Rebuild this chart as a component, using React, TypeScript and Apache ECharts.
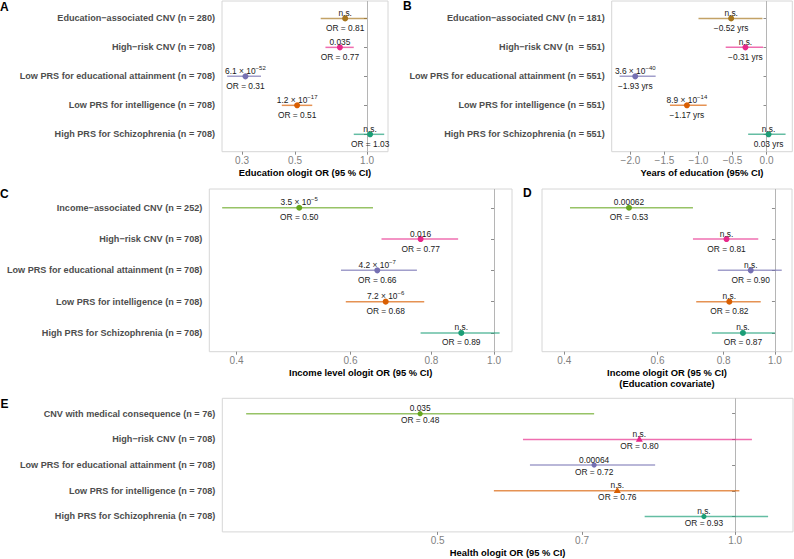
import React, { useEffect, useRef } from "react";
import * as echarts from "echarts";

const FONT = "'Liberation Sans', Arial, Helvetica, sans-serif";
const BROWN = "#A6761D";
const PINK = "#E7298A";
const PURPLE = "#7570B3";
const ORANGE = "#D95F02";
const TEAL = "#1B9E77";
const GREEN = "#66A61E";

// ---------- Panel A : Education ologit OR ----------
const rowsA = [
  "Education−associated CNV (n = 280)",
  "High−risk CNV (n = 708)",
  "Low PRS for educational attainment (n = 708)",
  "Low PRS for intelligence (n = 708)",
  "High PRS for Schizophrenia (n = 708)",
];
const estA = [0.81, 0.77, 0.31, 0.51, 1.03];
const loA = [0.64, 0.67, 0.26, 0.44, 0.88];
const hiA = [1.0, 0.88, 0.36, 0.59, 1.18];
const pA = ["n.s.", "0.035", "6.1e-52", "1.2e-17", "n.s."];
const colorsA = [BROWN, PINK, PURPLE, ORANGE, TEAL];
const ticksA = [0.3, 0.5, 1.0];

// ---------- Panel B : Years of education ----------
const rowsB = [
  "Education−associated CNV (n = 181)",
  "High−risk CNV (n  = 551)",
  "Low PRS for educational attainment (n = 551)",
  "Low PRS for intelligence (n = 551)",
  "High PRS for Schizophrenia (n = 551)",
];
const estB = [-0.52, -0.31, -1.93, -1.17, 0.03];
const loB = [-1.0, -0.6, -2.16, -1.42, -0.27];
const hiB = [-0.06, -0.05, -1.63, -0.88, 0.28];
const pB = ["n.s.", "n.s.", "3.6e-40", "8.9e-14", "n.s."];
const colorsB = [BROWN, PINK, PURPLE, ORANGE, TEAL];
const ticksB = [-2.0, -1.5, -1.0, -0.5, 0.0];

// ---------- Panel C : Income level ologit OR ----------
const rowsC = [
  "Income−associated CNV (n = 252)",
  "High−risk CNV (n = 708)",
  "Low PRS for educational attainment (n = 708)",
  "Low PRS for intelligence (n = 708)",
  "High PRS for Schizophrenia (n = 708)",
];
const estC = [0.5, 0.77, 0.66, 0.68, 0.89];
const loC = [0.38, 0.67, 0.58, 0.59, 0.77];
const hiC = [0.65, 0.88, 0.76, 0.78, 1.02];
const pC = ["3.5e-5", "0.016", "4.2e-7", "7.2e-6", "n.s."];
const colorsC = [GREEN, PINK, PURPLE, ORANGE, TEAL];
const ticksC = [0.4, 0.6, 0.8, 1.0];

// ---------- Panel D : Income ologit OR (education covariate) ----------
const rowsD = ["", "", "", "", ""];
const estD = [0.53, 0.81, 0.9, 0.82, 0.87];
const loD = [0.41, 0.7, 0.78, 0.71, 0.76];
const hiD = [0.7, 0.93, 1.03, 0.94, 1.0];
const pD = ["0.00062", "n.s.", "n.s.", "n.s.", "n.s."];
const colorsD = [GREEN, PINK, PURPLE, ORANGE, TEAL];
const ticksD = [0.4, 0.6, 0.8, 1.0];

// ---------- Panel E : Health ologit OR ----------
const rowsE = [
  "CNV with medical consequence (n = 76)",
  "High−risk CNV (n = 708)",
  "Low PRS for educational attainment (n = 708)",
  "Low PRS for intelligence (n = 708)",
  "High PRS for Schizophrenia (n = 708)",
];
const estE = [0.48, 0.8, 0.72, 0.76, 0.93];
const loE = [0.32, 0.61, 0.62, 0.57, 0.81];
const hiE = [0.72, 1.04, 0.83, 1.01, 1.08];
const pE = ["0.035", "n.s.", "0.00064", "n.s.", "n.s."];
const colorsE = [GREEN, PINK, PURPLE, ORANGE, TEAL];
const shapesE = ["circle", "triangle", "circle", "triangle", "circle"];
const ticksE = [0.5, 0.7, 1.0];

type Panel = {
  rows: string[];
  est: number[];
  lo: number[];
  hi: number[];
  p: string[];
  colors: string[];
  shapes?: string[];
  ticks: number[];
  log: boolean;
  min: number;
  max: number;
  title: string;
  unit: "or" | "yrs";
  grid: { left: number; top: number; width: number; height: number };
  topOff: number;
  botOff: number;
  r: number;
};

const panels: Panel[] = [
  {
    rows: rowsA, est: estA, lo: loA, hi: hiA, p: pA, colors: colorsA, ticks: ticksA,
    log: true, min: 0.2473, max: 1.224, title: "Education ologit OR (95 % CI)", unit: "or",
    grid: { left: 222, top: 1, width: 166, height: 150.7 }, topOff: -5, botOff: 9.3, r: 3,
  },
  {
    rows: rowsB, est: estB, lo: loB, hi: hiB, p: pB, colors: colorsB, ticks: ticksB,
    log: false, min: -2.276, max: 0.379, title: "Years of education (95% CI)", unit: "yrs",
    grid: { left: 611.7, top: 1, width: 180.6, height: 150.7 }, topOff: -5, botOff: 9.3, r: 3,
  },
  {
    rows: rowsC, est: estC, lo: loC, hi: hiC, p: pC, colors: colorsC, ticks: ticksC,
    log: true, min: 0.363, max: 1.066, title: "Income level ologit OR (95 % CI)", unit: "or",
    grid: { left: 209.3, top: 189, width: 302.7, height: 162.7 }, topOff: -5.5, botOff: 9.5, r: 3,
  },
  {
    rows: rowsD, est: estD, lo: loD, hi: hiD, p: pD, colors: colorsD, ticks: ticksD,
    log: true, min: 0.363, max: 1.077, title: "Income ologit OR (95 % CI)\n(Education covariate)", unit: "or",
    grid: { left: 542, top: 189, width: 250, height: 162.7 }, topOff: -5.5, botOff: 9.5, r: 3,
  },
  {
    rows: rowsE, est: estE, lo: loE, hi: hiE, p: pE, colors: colorsE, shapes: shapesE, ticks: ticksE,
    log: true, min: 0.3027, max: 1.1445, title: "Health ologit OR (95 % CI)", unit: "or",
    grid: { left: 222.3, top: 398.3, width: 570.7, height: 135 }, topOff: -5.5, botOff: 6.7, r: 2.6,
  },
];

const letters = [
  { t: "A", x: 0, y: 6.5 },
  { t: "B", x: 403, y: 6 },
  { t: "C", x: 0, y: 194 },
  { t: "D", x: 523, y: 193 },
  { t: "E", x: 0.5, y: 404 },
];

function tf(panel: Panel, v: number) {
  return panel.log ? Math.log(v) : v;
}

function topText(p: string) {
  if (p.indexOf("e") >= 0) {
    const [m, e] = p.split("e");
    return `{m|${m} × 10}{s|${e.replace("-", "−")}}`;
  }
  return `{m|${p}}`;
}

function botText(panel: Panel, v: number) {
  if (panel.unit === "yrs") {
    return (v < 0 ? "−" : "") + Math.abs(v).toFixed(2) + " yrs";
  }
  return "OR = " + v.toFixed(2);
}

function tickLabel(panel: Panel, v: number) {
  if (panel.log) return Math.exp(v).toFixed(1);
  return (v < -1e-9 ? "−" : "") + Math.abs(v).toFixed(1);
}

function buildOption() {
  const grid: any[] = [];
  const xAxis: any[] = [];
  const yAxis: any[] = [];
  const series: any[] = [];

  panels.forEach((panel, pi) => {
    grid.push({
      left: panel.grid.left,
      top: panel.grid.top,
      width: panel.grid.width,
      height: panel.grid.height,
      show: true,
      borderColor: "#d6d6d6",
      borderWidth: 1,
      containLabel: false,
    });
    const tickVals = panel.ticks.map((t) => tf(panel, t));
    xAxis.push({
      type: "value",
      gridIndex: pi,
      min: tf(panel, panel.min),
      max: tf(panel, panel.max),
      axisLine: { show: false },
      splitLine: { show: false },
      axisTick: {
        show: true,
        length: 3,
        customValues: tickVals,
        lineStyle: { color: "#8c8c8c", width: 1 },
      },
      axisLabel: {
        customValues: tickVals,
        formatter: (v: number) => tickLabel(panel, v),
        color: "#7f7f7f",
        fontSize: 10,
        fontFamily: FONT,
        margin: 4,
      },
      name: panel.title,
      nameLocation: "middle",
      nameGap: 15.5,
      nameTextStyle: {
        fontSize: 9.4,
        fontWeight: "bold",
        color: "#000",
        fontFamily: FONT,
        lineHeight: 10.6,
      },
    });
    const rowVals = panel.rows.map((_, i) => i + 1);
    yAxis.push({
      type: "value",
      gridIndex: pi,
      inverse: true,
      min: 0.4,
      max: 5.6,
      axisLine: { show: false },
      splitLine: { show: false },
      axisTick: {
        show: true,
        length: 3,
        customValues: rowVals,
        lineStyle: { color: "#8c8c8c", width: 1 },
      },
      axisLabel: {
        customValues: rowVals,
        formatter: (v: number) => panel.rows[Math.round(v) - 1] || "",
        color: "#4d4d4d",
        fontWeight: "bold",
        fontSize: 9.1,
        fontFamily: FONT,
        margin: 7,
      },
    });

    const data = panel.est.map((v, i) => [
      tf(panel, panel.lo[i]),
      tf(panel, panel.hi[i]),
      tf(panel, v),
      i + 1,
    ]);

    series.push({
      type: "custom",
      xAxisIndex: pi,
      yAxisIndex: pi,
      z: 3,
      clip: false,
      encode: { x: [0, 1, 2], y: 3 },
      data,
      markLine: {
        silent: true,
        symbol: "none",
        z: 1,
        label: { show: false },
        lineStyle: { color: "#b5b5b5", width: 1, type: "solid" },
        data: [{ xAxis: 0 }],
      },
      renderItem: (params: any, api: any) => {
        const i = params.dataIndex;
        const row = api.value(3);
        const p1 = api.coord([api.value(0), row]);
        const p2 = api.coord([api.value(1), row]);
        const pc = api.coord([api.value(2), row]);
        const color = panel.colors[i];
        const shape = panel.shapes ? panel.shapes[i] : "circle";
        const cx = pc[0];
        const cy = pc[1];
        const marker =
          shape === "triangle"
            ? {
                type: "polygon",
                shape: {
                  points: [
                    [cx, cy - 3.8],
                    [cx - 3.5, cy + 2.3],
                    [cx + 3.5, cy + 2.3],
                  ],
                },
                style: { fill: color },
              }
            : { type: "circle", shape: { cx, cy, r: panel.r }, style: { fill: color } };
        return {
          type: "group",
          children: [
            {
              type: "line",
              shape: { x1: p1[0], y1: p1[1], x2: p2[0], y2: p2[1] },
              style: { stroke: color, lineWidth: 1.5, opacity: 0.68 },
            },
            marker,
            {
              type: "text",
              x: cx,
              y: cy + panel.topOff,
              style: {
                text: topText(panel.p[i]),
                align: "center",
                verticalAlign: "middle",
                rich: {
                  m: { fontSize: 8.4, fontFamily: FONT, fill: "#1a1a1a", lineHeight: 12 },
                  s: {
                    fontSize: 6,
                    fontFamily: FONT,
                    fill: "#1a1a1a",
                    lineHeight: 5,
                    verticalAlign: "top",
                  },
                },
              },
            },
            {
              type: "text",
              x: cx,
              y: cy + panel.botOff,
              style: {
                text: botText(panel, panel.est[i]),
                align: "center",
                verticalAlign: "middle",
                fontSize: 8.4,
                fontFamily: FONT,
                fill: "#1a1a1a",
              },
            },
          ],
        };
      },
    });
  });

  const graphic = letters.map((l) => ({
    type: "text",
    x: l.x,
    y: l.y,
    style: {
      text: l.t,
      fontSize: 12,
      fontWeight: "bold",
      fontFamily: FONT,
      fill: "#000",
      align: "left",
      verticalAlign: "middle",
    },
  }));

  return {
    animation: false,
    backgroundColor: "#ffffff",
    grid,
    xAxis,
    yAxis,
    series,
    graphic,
  };
}

export default function App() {
  const ref = useRef<HTMLDivElement>(null);
  useEffect(() => {
    if (!ref.current) return;
    const chart = echarts.init(ref.current, undefined, { renderer: "svg" });
    chart.setOption(buildOption() as any);
    return () => {
      chart.dispose();
    };
  }, []);
  return (
    <div
      ref={ref}
      style={{ position: "fixed", left: 0, top: 0, width: 794, height: 559, background: "#fff" }}
    />
  );
}
